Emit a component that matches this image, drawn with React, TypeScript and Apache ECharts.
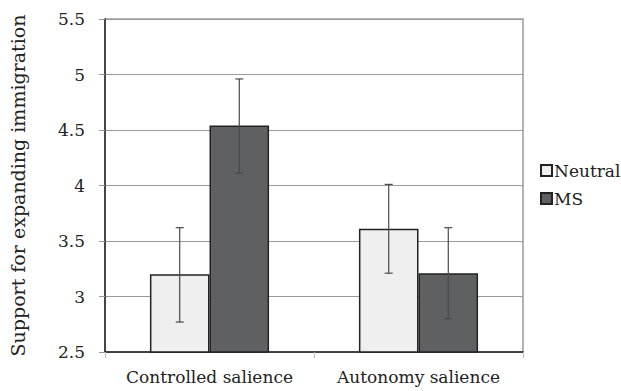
import React, { useEffect, useRef } from "react";
import * as echarts from "echarts";

const categories = ["Controlled salience", "Autonomy salience"];
const seriesNames = ["Neutral", "MS"];
const neutralValues = [3.2, 3.61];
const msValues = [4.54, 3.21];
const neutralErrLow = [2.77, 3.21];
const neutralErrHigh = [3.62, 4.01];
const msErrLow = [4.11, 2.8];
const msErrHigh = [4.96, 3.62];

const FONT = "DejaVu Serif";
const FS = 17;
const CAT_GAP = 0.43;

function errorSeries(low: number[], high: number[], offsetSign: number) {
  return {
    type: "custom",
    silent: true,
    z: 5,
    data: categories.map((_, i) => [i, low[i], high[i]]),
    renderItem: (params: any, api: any) => {
      const idx = api.value(0);
      const lo = api.coord([idx, api.value(1)]);
      const hi = api.coord([idx, api.value(2)]);
      const bandW = api.size([1, 0])[0];
      const barW = (bandW * (1 - CAT_GAP)) / 2;
      const x = lo[0] + offsetSign * barW / 2;
      const cap = 4;
      const style = { stroke: "#4a4a4a", lineWidth: 1.2 };
      return {
        type: "group",
        children: [
          { type: "line", shape: { x1: x, y1: lo[1], x2: x, y2: hi[1] }, style },
          { type: "line", shape: { x1: x - cap, y1: lo[1], x2: x + cap, y2: lo[1] }, style },
          { type: "line", shape: { x1: x - cap, y1: hi[1], x2: x + cap, y2: hi[1] }, style },
        ],
      };
    },
  };
}

export default function App() {
  const ref = useRef<HTMLDivElement>(null);
  useEffect(() => {
    if (!ref.current) return;
    const chart = echarts.init(ref.current, undefined, { renderer: "svg" });
    chart.setOption({
      animation: false,
      backgroundColor: "#ffffff",
      textStyle: { fontFamily: FONT, fontSize: FS },
      grid: {
        left: 104,
        right: 98,
        top: 19,
        bottom: 39,
        show: true,
        borderColor: "#9a9a9a",
        borderWidth: 1.5,
      },
      legend: {
        orient: "vertical",
        left: 535,
        top: 157,
        itemWidth: 11,
        itemHeight: 11,
        itemGap: 11,
        icon: "rect",
        textStyle: { fontFamily: FONT, fontSize: FS, color: "#222", padding: [0, 0, 0, -3] },
        data: seriesNames,
      },
      xAxis: {
        type: "category",
        data: categories,
        axisLine: { show: true, lineStyle: { color: "#222", width: 1.5 } },
        axisTick: { show: true, alignWithLabel: false, length: 6, lineStyle: { color: "#bbb" } },
        axisLabel: { fontFamily: FONT, fontSize: FS, color: "#222", margin: 16, interval: 0 },
      },
      yAxis: {
        type: "value",
        min: 2.5,
        max: 5.5,
        interval: 0.5,
        name: "Support for expanding immigration",
        nameLocation: "middle",
        nameGap: 78,
        nameTextStyle: { fontFamily: FONT, fontSize: 19, color: "#222" },
        axisLine: { show: true, lineStyle: { color: "#222", width: 1.5 } },
        axisTick: { show: true, length: 6, lineStyle: { color: "#999" } },
        axisLabel: { fontFamily: FONT, fontSize: FS, color: "#222", margin: 20 },
        splitLine: { show: true, lineStyle: { color: "#9a9a9a", width: 1 } },
      },
      series: [
        {
          name: seriesNames[0],
          type: "bar",
          data: neutralValues,
          barGap: "0%",
          barCategoryGap: "43%",
          itemStyle: { color: "#efefef", borderColor: "#222", borderWidth: 1.5 },
        },
        {
          name: seriesNames[1],
          type: "bar",
          data: msValues,
          barGap: "0%",
          barCategoryGap: "43%",
          itemStyle: { color: "#5f6062", borderColor: "#222", borderWidth: 1.5 },
        },
        errorSeries(neutralErrLow, neutralErrHigh, -1),
        errorSeries(msErrLow, msErrHigh, 1),
      ],
    });
    return () => chart.dispose();
  }, []);
  return <div ref={ref} style={{ width: 621, height: 391, position: "absolute", left: 0, top: 0 }} />;
}
